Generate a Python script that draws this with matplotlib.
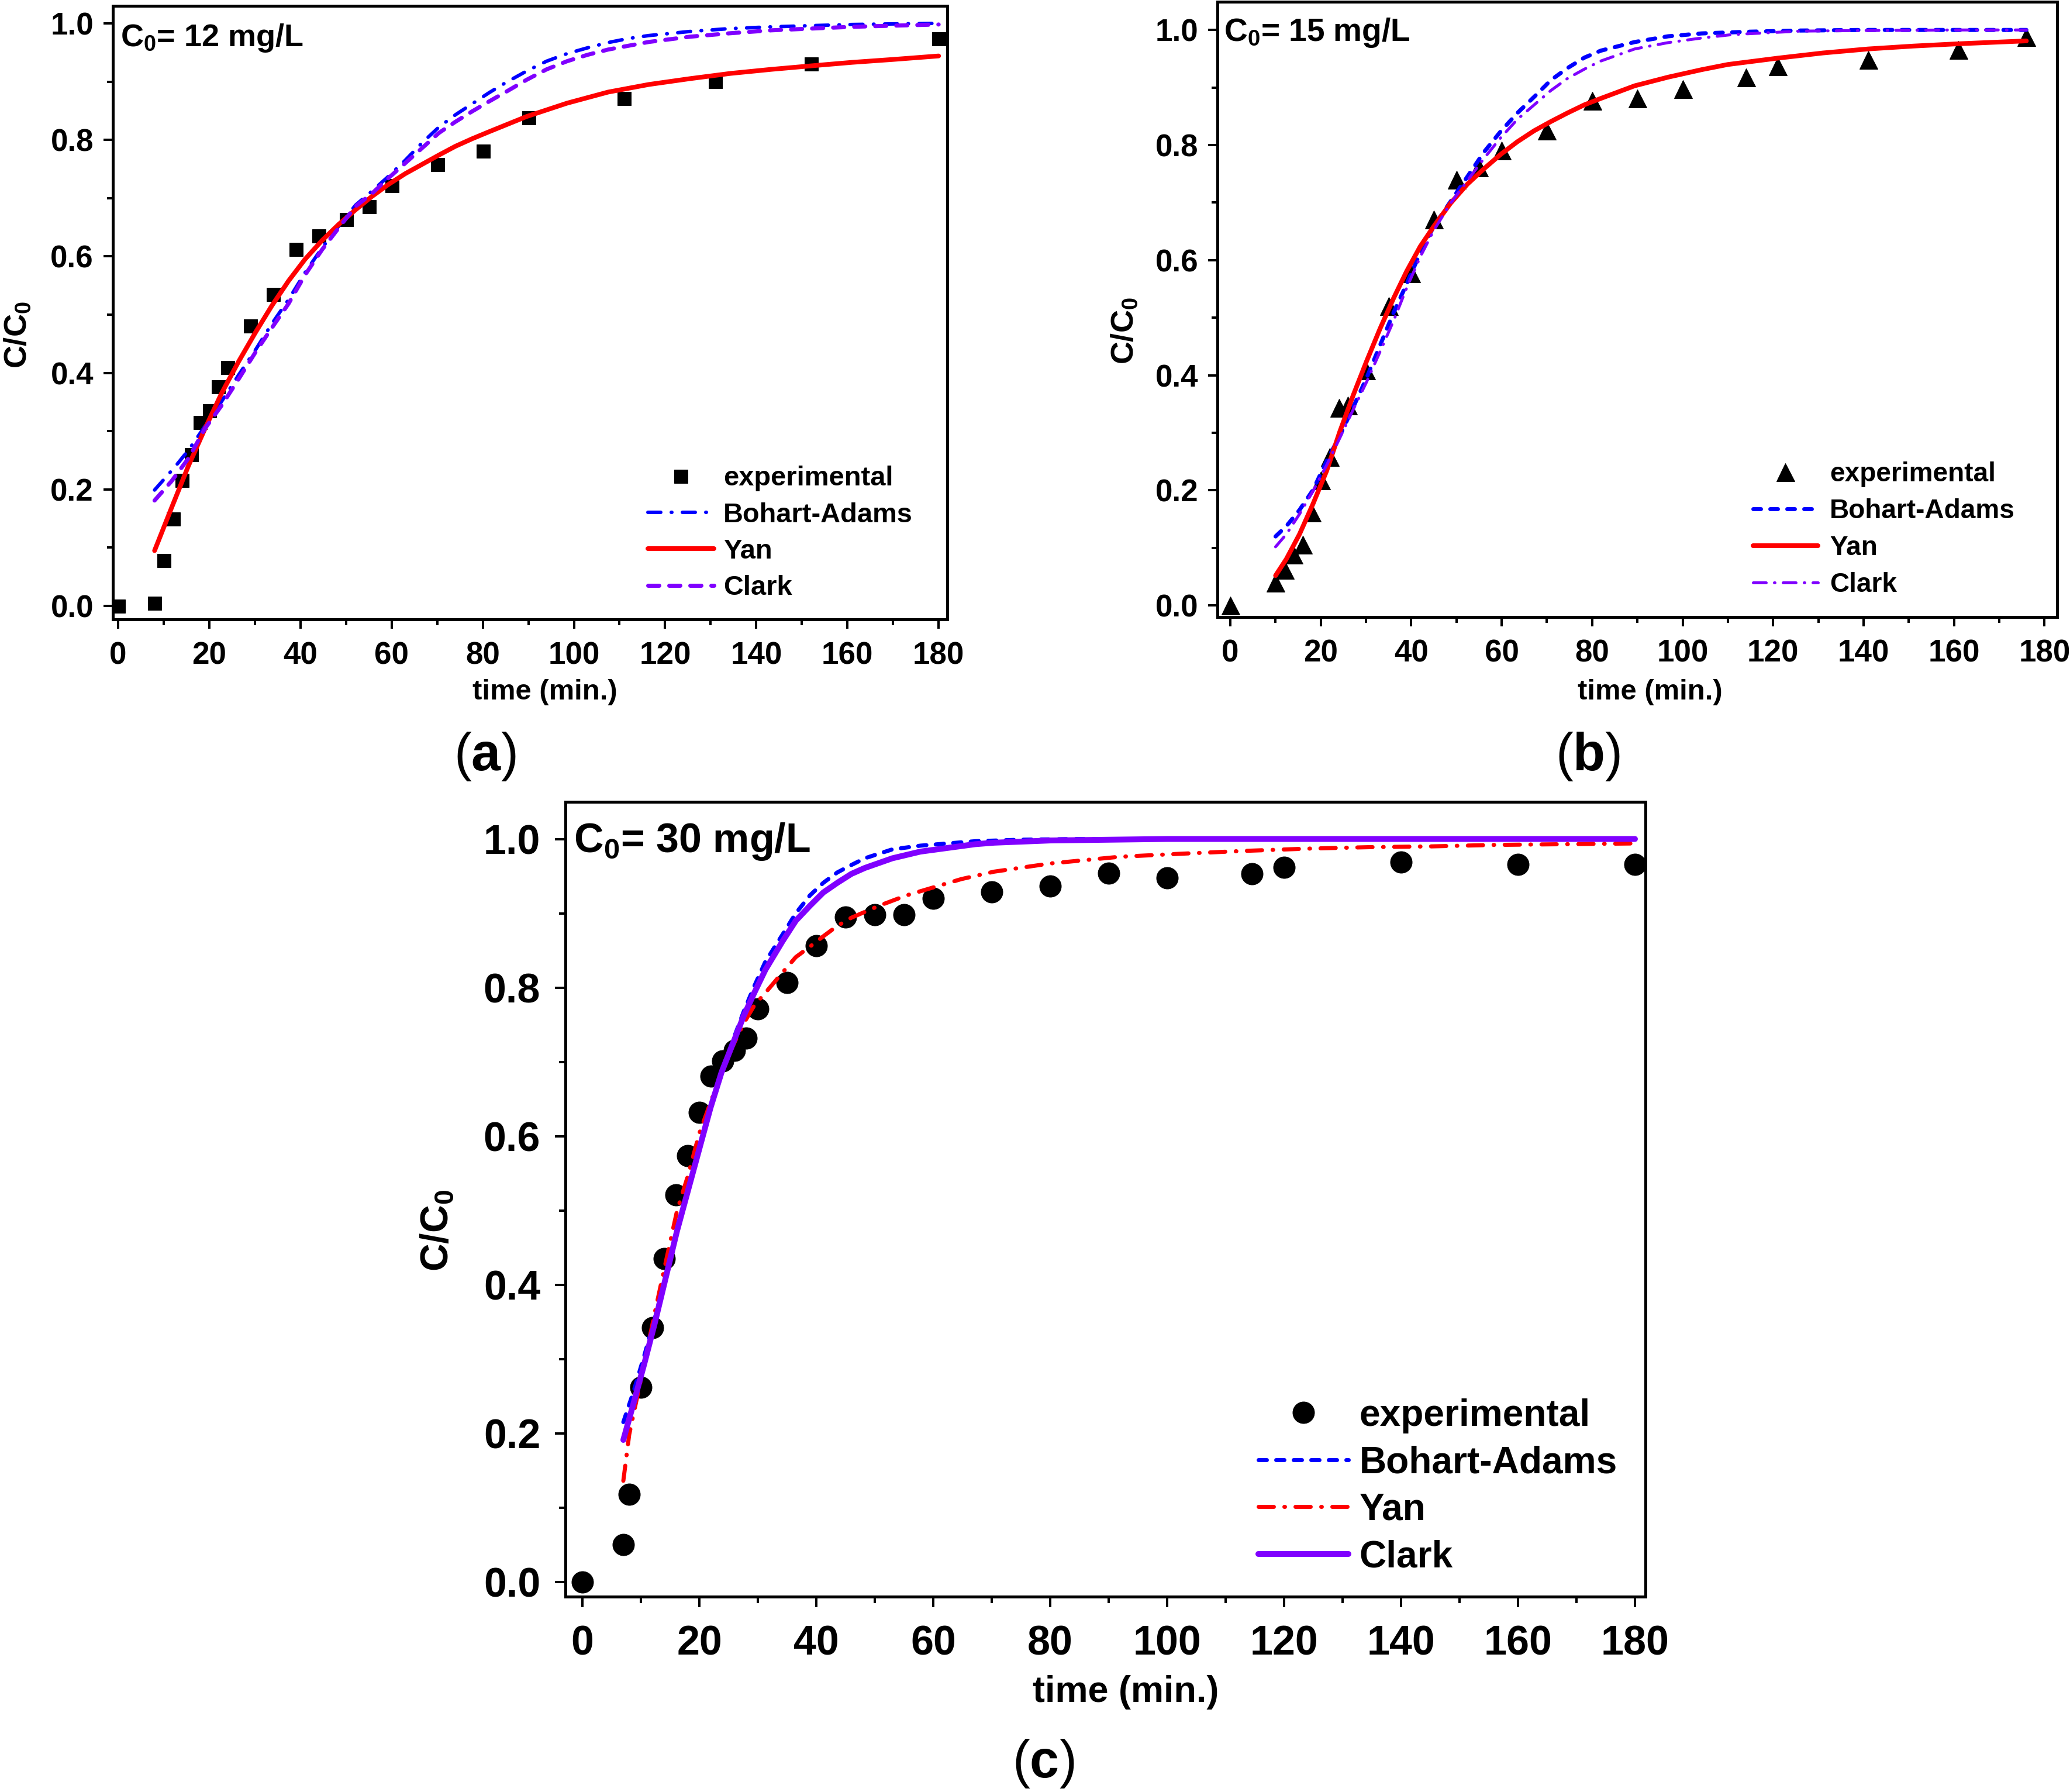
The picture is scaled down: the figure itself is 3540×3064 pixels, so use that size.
import matplotlib
matplotlib.use('Agg')
import matplotlib.pyplot as plt
from matplotlib.ticker import MultipleLocator, FormatStrFormatter

# ---------------- data: panel (a) C0 = 12 mg/L ----------------
a_exp_t = [0, 8, 10, 12, 14, 16, 18, 20, 22, 24, 29, 34, 39, 44, 50, 55, 60, 70, 80, 90, 111, 131, 152, 180]
a_exp_y = [0.0, 0.005, 0.078, 0.150, 0.216, 0.260, 0.315, 0.335, 0.377, 0.410, 0.481, 0.535, 0.612, 0.636,
           0.664, 0.686, 0.722, 0.758, 0.781, 0.838, 0.871, 0.901, 0.931, 0.974]
a_ba_t = [8, 12.5, 15.4, 19.1, 22.7, 26.4, 30.1, 33.7, 37.4, 41, 44.7, 48.4, 52.1, 55.7, 59.4, 63, 66.7, 70.4,
          74, 77.7, 81.4, 85, 89.6, 94, 98.5, 103, 107.5, 112, 116.4, 125.4, 134.3, 143.3, 152, 161, 170, 180]
a_ba_y = [0.199, 0.239, 0.267, 0.309, 0.351, 0.396, 0.439, 0.484, 0.526, 0.572, 0.614, 0.652, 0.688, 0.712,
          0.738, 0.765, 0.795, 0.822, 0.843, 0.862, 0.881, 0.898, 0.918, 0.935, 0.948, 0.958, 0.967, 0.974,
          0.979, 0.986, 0.991, 0.994, 0.996, 0.998, 0.999, 1.0]
a_yan_t = [8, 11.7, 15.4, 19.1, 22.7, 26.4, 30.1, 33.7, 37.4, 41, 44.7, 48.4, 52.1, 55.7, 59.4, 63, 66.7, 70.4,
           74, 77.7, 81.4, 89.6, 98.5, 107.5, 116.4, 125.4, 134.3, 143.3, 152, 161, 170, 180]
a_yan_y = [0.095, 0.168, 0.240, 0.305, 0.365, 0.419, 0.469, 0.515, 0.558, 0.595, 0.627, 0.655, 0.680, 0.703,
           0.724, 0.742, 0.758, 0.774, 0.789, 0.802, 0.814, 0.840, 0.863, 0.882, 0.895, 0.905, 0.914, 0.921,
           0.927, 0.933, 0.938, 0.944]
a_cl_t = [8, 11.7, 15.4, 19.1, 22.7, 26.4, 30.1, 33.7, 37.4, 41, 44.7, 48.4, 52.1, 55.7, 59.4, 63, 66.7, 70.4,
          74, 77.7, 81.4, 85, 89.6, 94, 98.5, 103, 107.5, 116.4, 125.4, 134.3, 143.3, 152, 161, 170, 180]
a_cl_y = [0.181, 0.214, 0.253, 0.305, 0.344, 0.389, 0.435, 0.477, 0.519, 0.568, 0.611, 0.649, 0.686, 0.708,
          0.735, 0.760, 0.786, 0.812, 0.831, 0.849, 0.866, 0.882, 0.903, 0.921, 0.935, 0.946, 0.955, 0.968,
          0.977, 0.983, 0.988, 0.991, 0.994, 0.996, 0.998]

# ---------------- data: panel (b) C0 = 15 mg/L ----------------
b_exp_t = [0, 10, 12, 14, 16, 18, 20, 22, 24, 26, 30, 35, 40, 45, 50, 55, 60, 70, 80, 90, 100, 114, 121, 141, 161, 176]
b_exp_y = [0.0, 0.040, 0.062, 0.089, 0.106, 0.162, 0.218, 0.258, 0.344, 0.348, 0.409, 0.521, 0.578, 0.671,
           0.740, 0.761, 0.791, 0.825, 0.877, 0.881, 0.898, 0.918, 0.937, 0.948, 0.966, 0.988]
b_ba_t = [10, 12.4, 15.3, 18.3, 21.3, 24.2, 27.2, 30.1, 33.1, 36.1, 39, 42, 45, 48.7, 52.4, 56.1, 59.8, 63.5,
          67.2, 70.9, 74.6, 78.3, 81.9, 89.4, 96.8, 104.2, 115, 126, 140, 160, 176]
b_ba_y = [0.120, 0.138, 0.166, 0.201, 0.251, 0.295, 0.345, 0.395, 0.452, 0.509, 0.559, 0.613, 0.659, 0.702,
          0.745, 0.788, 0.824, 0.856, 0.884, 0.913, 0.934, 0.952, 0.964, 0.979, 0.989, 0.994, 0.997, 0.999,
          1.0, 1.0, 1.0]
b_yan_t = [10, 12.4, 15.3, 18.3, 21.3, 24.2, 27.2, 30.1, 33.1, 36.1, 39, 42, 45, 48.7, 52.4, 56.1, 59.8, 63.5,
           67.2, 70.9, 74.6, 78.3, 81.9, 89.4, 96.8, 104.2, 110, 121, 131, 141, 151, 161, 176]
b_yan_y = [0.052, 0.081, 0.124, 0.177, 0.234, 0.302, 0.366, 0.424, 0.481, 0.534, 0.581, 0.624, 0.659, 0.699,
           0.732, 0.759, 0.784, 0.806, 0.825, 0.841, 0.856, 0.870, 0.881, 0.903, 0.918, 0.931, 0.940, 0.951,
           0.960, 0.967, 0.972, 0.976, 0.981]
b_cl_t = [10, 12.4, 15.3, 18.3, 21.3, 24.2, 27.2, 30.1, 33.1, 36.1, 39, 42, 45, 48.7, 52.4, 56.1, 59.8, 63.5,
          67.2, 70.9, 74.6, 78.3, 81.9, 89.4, 96.8, 104.2, 111, 126, 140, 160, 176]
b_cl_y = [0.102, 0.124, 0.159, 0.199, 0.244, 0.291, 0.341, 0.388, 0.441, 0.495, 0.552, 0.606, 0.652, 0.699,
          0.738, 0.777, 0.813, 0.845, 0.870, 0.895, 0.916, 0.932, 0.946, 0.967, 0.978, 0.986, 0.992, 0.998,
          0.999, 1.0, 1.0]

# ---------------- data: panel (c) C0 = 30 mg/L ----------------
c_exp_t = [0, 7, 8, 10, 12, 14, 16, 18, 20, 22, 24, 26, 28, 30, 35, 40, 45, 50, 55, 60, 70, 80, 90, 100,
           114.5, 120, 140, 160, 180]
c_exp_y = [0.0, 0.050, 0.118, 0.262, 0.342, 0.435, 0.521, 0.574, 0.632, 0.681, 0.701, 0.715, 0.732, 0.771,
           0.807, 0.856, 0.895, 0.898, 0.898, 0.920, 0.929, 0.937, 0.954, 0.948, 0.953, 0.962, 0.969, 0.966, 0.966]
c_ba_t = [7, 8.7, 10.6, 12.4, 14.3, 16.2, 18.1, 20, 21.9, 23.8, 25.7, 27.6, 29.4, 31.3, 34.2, 36.5, 38.9, 41.2,
          43.6, 46, 48.3, 53, 57.8, 62.5, 67.2, 75, 85, 100, 120, 140, 160, 180]
c_ba_y = [0.215, 0.255, 0.305, 0.355, 0.413, 0.473, 0.528, 0.583, 0.638, 0.688, 0.728, 0.768, 0.802, 0.835,
          0.871, 0.900, 0.924, 0.941, 0.955, 0.965, 0.974, 0.986, 0.991, 0.994, 0.997, 0.999, 1.0, 1.0, 1.0,
          1.0, 1.0, 1.0]
c_yan_t = [7, 8, 9.1, 10.6, 12.4, 14.3, 16.2, 18.1, 20, 21.9, 23.8, 25.7, 27.6, 29.4, 31.3, 34.2, 36.5, 38.9,
           41.2, 43.6, 46, 50.7, 55.4, 60.1, 64.8, 70.4, 80, 91.8, 102, 113.3, 124, 134.7, 145, 156, 168, 180]
c_yan_y = [0.136, 0.198, 0.239, 0.294, 0.363, 0.432, 0.500, 0.548, 0.604, 0.645, 0.686, 0.721, 0.752, 0.776,
           0.793, 0.820, 0.841, 0.855, 0.869, 0.883, 0.894, 0.910, 0.924, 0.935, 0.946, 0.956, 0.967, 0.976,
           0.980, 0.984, 0.987, 0.989, 0.990, 0.992, 0.993, 0.994]
c_cl_t = [7, 8.7, 10.6, 12.4, 14.3, 16.2, 18.1, 20, 21.9, 23.8, 25.7, 27.6, 29.4, 31.3, 34.2, 36.5, 38.9, 41.2,
          43.6, 46, 48.3, 53, 57.8, 62.5, 67.2, 70.4, 80, 90, 100, 120, 140, 160, 180]
c_cl_y = [0.191, 0.239, 0.294, 0.349, 0.411, 0.473, 0.528, 0.583, 0.638, 0.686, 0.724, 0.762, 0.793, 0.824,
          0.862, 0.890, 0.910, 0.928, 0.941, 0.953, 0.961, 0.974, 0.983, 0.988, 0.993, 0.995, 0.998, 0.999,
          1.0, 1.0, 1.0, 1.0, 1.0]

x_ticks = [0, 20, 40, 60, 80, 100, 120, 140, 160, 180]
y_ticks = [0.0, 0.2, 0.4, 0.6, 0.8, 1.0]
labels = ['experimental', 'Bohart-Adams', 'Yan', 'Clark']

BLUE = '#0000FF'
RED = '#FF0000'
PURPLE = '#8000FF'

plt.rcParams.update({
    'font.family': ['Liberation Sans', 'DejaVu Sans'],
    'font.weight': 'bold',
    'mathtext.fontset': 'custom',
    'mathtext.rm': 'Liberation Sans:bold',
    'mathtext.bf': 'Liberation Sans:bold',
    'mathtext.it': 'Liberation Sans:bold',
    'lines.scale_dashes': False,
    'axes.linewidth': 5,
})

W, H = 3540, 3064
fig = plt.figure(figsize=(W / 72, H / 72), dpi=72)


def px_axes(l, t, r, b):
    return fig.add_axes([l / W, 1 - b / H, (r - l) / W, (b - t) / H])


def style(ax, xlim, ylim, fs, tlen, xpad, ypad):
    ax.set_xlim(*xlim)
    ax.set_ylim(*ylim)
    ax.set_xticks(x_ticks)
    ax.set_yticks(y_ticks)
    ax.xaxis.set_minor_locator(MultipleLocator(10))
    ax.yaxis.set_minor_locator(MultipleLocator(0.1))
    ax.yaxis.set_major_formatter(FormatStrFormatter('%.1f'))
    ax.tick_params(which='major', direction='out', length=tlen, width=4, labelsize=fs,
                   top=False, right=False)
    ax.tick_params(which='minor', direction='out', length=tlen * 0.6, width=4, top=False, right=False)
    ax.tick_params(axis='x', which='major', pad=xpad)
    ax.tick_params(axis='y', which='major', pad=ypad)
    for lab in ax.get_xticklabels() + ax.get_yticklabels():
        lab.set_fontweight('bold')


# ---------------- panel (a) ----------------
axa = px_axes(193, 10, 1620, 1059)
style(axa, (-1.15, 181.9), (-0.023, 1.03), 53, 16, 21, 17)
ea, = axa.plot(a_exp_t, a_exp_y, 's', color='black', ms=23, zorder=2, clip_on=False)
ba, = axa.plot(a_ba_t, a_ba_y, color=BLUE, lw=6, dashes=[22, 18, 1, 18], dash_capstyle='round', zorder=3)
ya, = axa.plot(a_yan_t, a_yan_y, color=RED, lw=8, solid_capstyle='round', zorder=4)
ca, = axa.plot(a_cl_t, a_cl_y, color=PURPLE, lw=7, dashes=[19, 17], dash_capstyle='round', zorder=5)
axa.legend([ea, ba, ya, ca], labels, loc='upper left', bbox_to_anchor=(0.641, 0.2505), frameon=False,
           prop={'size': 47, 'weight': 'bold'}, handlelength=2.4, handletextpad=0.35, labelspacing=0.39,
           borderpad=0, borderaxespad=0, numpoints=1)
axa.text(0.009, 0.934, 'C$_{0}$= 12 mg/L', transform=axa.transAxes, fontsize=54, fontweight='bold',
         ha='left', va='baseline')
axa.set_xlabel('time (min.)', fontsize=49, fontweight='bold')
axa.xaxis.set_label_coords(0.518, -0.097)
axa.set_ylabel('C/C$_{0}$', fontsize=54, fontweight='bold')
axa.yaxis.set_label_coords(-0.096, 0.464)

# ---------------- panel (b) ----------------
axb = px_axes(2082, 3, 3518, 1055)
style(axb, (-2.85, 182.8), (-0.02, 1.049), 53, 16, 21, 17)
eb, = axb.plot(b_exp_t, b_exp_y, '^', color='black', ms=31, zorder=2, clip_on=False)
bb, = axb.plot(b_ba_t, b_ba_y, color=BLUE, lw=7, dashes=[13, 16], dash_capstyle='round', zorder=3)
yb, = axb.plot(b_yan_t, b_yan_y, color=RED, lw=8, solid_capstyle='round', zorder=4)
cb, = axb.plot(b_cl_t, b_cl_y, color=PURPLE, lw=5, dashes=[22, 14, 1, 14], dash_capstyle='round', zorder=5)
axb.legend([eb, bb, yb, cb], labels, loc='upper left', bbox_to_anchor=(0.638, 0.2526), frameon=False,
           prop={'size': 46, 'weight': 'bold'}, handlelength=2.4, handletextpad=0.45, labelspacing=0.41,
           borderpad=0, borderaxespad=0, numpoints=1)
axb.text(0.0077, 0.936, 'C$_{0}$= 15 mg/L', transform=axb.transAxes, fontsize=55, fontweight='bold',
         ha='left', va='baseline')
axb.set_xlabel('time (min.)', fontsize=49, fontweight='bold')
axb.xaxis.set_label_coords(0.515, -0.1007)
axb.set_ylabel('C/C$_{0}$', fontsize=54, fontweight='bold')
axb.yaxis.set_label_coords(-0.0926, 0.4656)

# ---------------- panel (c) ----------------
axc = px_axes(967, 1371, 2814, 2730)
style(axc, (-2.9, 181.8), (-0.02, 1.05), 70, 18, 30, 25)
ec, = axc.plot(c_exp_t, c_exp_y, 'o', color='black', ms=37, zorder=2, clip_on=False)
bc, = axc.plot(c_ba_t, c_ba_y, color=BLUE, lw=7, dashes=[14, 16], dash_capstyle='round', zorder=3)
yc, = axc.plot(c_yan_t, c_yan_y, color=RED, lw=7, dashes=[26, 18, 1, 18], dash_capstyle='round', zorder=4)
cc, = axc.plot(c_cl_t, c_cl_y, color=PURPLE, lw=10, solid_capstyle='round', zorder=5)
axc.legend([ec, bc, yc, cc], labels, loc='upper left', bbox_to_anchor=(0.6416, 0.2497), frameon=False,
           prop={'size': 64, 'weight': 'bold'}, handlelength=2.4, handletextpad=0.3, labelspacing=0.32,
           borderpad=0, borderaxespad=0, numpoints=1)
axc.text(0.0076, 0.937, 'C$_{0}$= 30 mg/L', transform=axc.transAxes, fontsize=70, fontweight='bold',
         ha='left', va='baseline')
axc.set_xlabel('time (min.)', fontsize=63, fontweight='bold')
axc.xaxis.set_label_coords(0.519, -0.0986)
axc.set_ylabel('C/C$_{0}$', fontsize=66, fontweight='bold')
axc.yaxis.set_label_coords(-0.1015, 0.4606)

# ---------------- panel letters ----------------
fig.text(829 / W, 1 - 1294 / H, r'($\mathbf{a}$)', fontsize=90, fontweight='normal', ha='center', va='center')
fig.text(2716 / W, 1 - 1294 / H, r'($\mathbf{b}$)', fontsize=90, fontweight='normal', ha='center', va='center')
fig.text(1784 / W, 1 - 3016 / H, r'($\mathbf{c}$)', fontsize=90, fontweight='normal', ha='center', va='center')

fig.savefig('out.png', dpi=72, facecolor='white')
